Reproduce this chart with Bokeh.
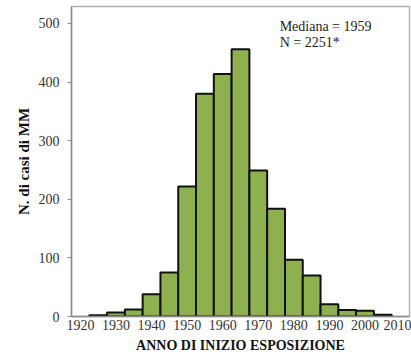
from bokeh.plotting import figure
from bokeh.models import Range1d, FixedTicker, Label
from bokeh.embed import file_html
from bokeh.resources import INLINE

# Data: 5-year bins labelled by start year
years = [1920, 1925, 1930, 1935, 1940, 1945, 1950, 1955, 1960, 1965,
         1970, 1975, 1980, 1985, 1990, 1995, 2000, 2005, 2010]
cases = [0, 2, 7, 12, 38, 75, 222, 380, 414, 456,
         249, 184, 97, 70, 21, 11, 10, 3, 0]
x_ticks = [1920, 1930, 1940, 1950, 1960, 1970, 1980, 1990, 2000, 2010]
y_ticks = [0, 100, 200, 300, 400, 500]
note_lines = ["Mediana = 1959", "N = 2251*"]

SERIF = "Liberation Serif"

p = figure(width=411, height=358, output_backend="svg", toolbar_location=None,
           x_range=Range1d(1917.5, 2012.5), y_range=Range1d(0, 529),
           min_border_left=71, min_border_right=2, min_border_top=6,
           min_border_bottom=42)

bx = [y for y, c in zip(years, cases) if c > 0]
bc = [c for c in cases if c > 0]
p.vbar(x=bx, top=bc, bottom=0, width=5, fill_color="#8fb04f",
       line_color="#111111", line_width=2)

p.grid.visible = False
p.outline_line_color = "#b3b3b3"
p.outline_line_width = 1.5

xa = p.xaxis[0]
xa.ticker = FixedTicker(ticks=x_ticks)
xa.major_tick_out = 0
xa.major_tick_in = 0
xa.minor_tick_out = 0
xa.minor_tick_in = 0
xa.axis_line_color = "#8c8c8c"
xa.axis_line_width = 1.5
xa.major_label_text_font = SERIF
xa.major_label_text_font_size = "14px"
xa.major_label_text_color = "#333333"
xa.major_label_standoff = 3
xa.axis_label = "ANNO DI INIZIO ESPOSIZIONE"
xa.axis_label_text_font = SERIF
xa.axis_label_text_font_size = "14px"
xa.axis_label_text_font_style = "bold"
xa.axis_label_text_color = "#111111"
xa.axis_label_standoff = 5

ya = p.yaxis[0]
ya.ticker = FixedTicker(ticks=y_ticks)
ya.major_tick_out = 4
ya.major_tick_in = 0
ya.minor_tick_out = 0
ya.minor_tick_in = 0
ya.major_tick_line_color = "#8c8c8c"
ya.axis_line_color = "#8c8c8c"
ya.axis_line_width = 1.5
ya.major_label_text_font = SERIF
ya.major_label_text_font_size = "14px"
ya.major_label_text_color = "#333333"
ya.major_label_standoff = 8
ya.axis_label = "N. di casi di MM"
ya.axis_label_text_font = SERIF
ya.axis_label_text_font_size = "15px"
ya.axis_label_text_font_style = "bold"
ya.axis_label_text_color = "#111111"
ya.axis_label_standoff = 4

for i, line in enumerate(note_lines):
    p.add_layout(Label(x=1976, y=507, y_offset=-15.5 * i, text=line,
                       text_font=SERIF, text_font_size="14px",
                       text_color="#222222", text_baseline="top"))

open("out.html", "w").write(file_html(p, INLINE))
